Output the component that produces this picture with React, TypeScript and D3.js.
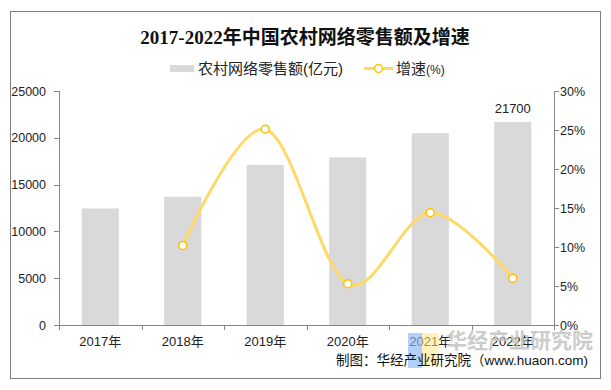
import React from "react";
import * as d3 from "d3";

const years = ["2017年", "2018年", "2019年", "2020年", "2021年", "2022年"];
const sales = [12449, 13700, 17100, 17900, 20500, 21700];
const growth: (number | null)[] = [null, 10.2, 25.1, 5.3, 14.4, 6.0];
const leftTicks = [0, 5000, 10000, 15000, 20000, 25000];
const rightTicks = [0, 5, 10, 15, 20, 25, 30];

const W = 611, H = 390;
const x0 = 59, x1 = 554, yBase = 325, yTop = 91;

export default function App() {
  const x = d3.scaleBand<string>().domain(years).range([x0, x1]).paddingInner(0.55).paddingOuter(0.275);
  const xb = d3.scaleBand<string>().domain(years).range([x0, x1]);
  const yL = d3.scaleLinear().domain([0, 25000]).range([yBase, yTop]);
  const yR = d3.scaleLinear().domain([0, 30]).range([yBase, yTop]);
  const pts = years
    .map((yr, i) => ({ yr, v: growth[i] }))
    .filter((d) => d.v !== null) as { yr: string; v: number }[];
  const line = d3
    .line<{ yr: string; v: number }>()
    .x((d) => (xb(d.yr) as number) + xb.bandwidth() / 2)
    .y((d) => yR(d.v))
    .curve(d3.curveCardinal.tension(0));
  const sans = "'Liberation Sans', Arial, 'Noto Sans CJK SC', sans-serif";
  const gold = "#FFD966";
  const goldDark = "#FFC000";
  const axisCol = "#868686";
  return (
    <svg width={W} height={H} style={{ position: "absolute", left: 0, top: 0 }} fontFamily={sans}>
      <rect x={0} y={0} width={W} height={H} fill="#fff" />
      <rect x={10.5} y={11.5} width={590} height={367} fill="none" stroke="#7f7f7f" strokeWidth={1} />
      <text x={305} y={44} textAnchor="middle" fontSize={19} fontWeight="bold" fill="#111"
        fontFamily="'Liberation Serif', 'DejaVu Serif', 'Noto Sans CJK SC', serif">
        2017-2022年中国农村网络零售额及增速
      </text>
      {/* legend */}
      <rect x={170} y={65} width={24} height={7} fill="#d9d9d9" />
      <text x={198} y={73.5} fontSize={15} fill="#222">农村网络零售额(亿元)</text>
      <line x1={364} x2={393} y1={68.5} y2={68.5} stroke={gold} strokeWidth={3} />
      <circle cx={378.5} cy={68.5} r={4} fill="#fff" stroke={goldDark} strokeWidth={1.5} />
      <text x={396} y={73.5} fontSize={15} fill="#222">增速<tspan fontSize={12}>(%)</tspan></text>
      {/* bars */}
      {years.map((yr, i) => (
        <rect key={yr} x={x(yr)} y={yL(sales[i])} width={x.bandwidth()} height={yBase - yL(sales[i])} fill="#d9d9d9" />
      ))}
      <text x={(x("2022年") as number) + x.bandwidth() / 2} y={yL(21700) - 9} textAnchor="middle" fontSize={13} fill="#222">21700</text>
      {/* axes */}
      <line x1={x0 + 0.5} x2={x0 + 0.5} y1={yTop} y2={yBase} stroke={axisCol} />
      <line x1={x1 + 0.5} x2={x1 + 0.5} y1={yTop} y2={yBase} stroke={axisCol} />
      <line x1={x0} x2={x1} y1={yBase + 0.5} y2={yBase + 0.5} stroke={axisCol} />
      {leftTicks.map((t) => (
        <g key={"l" + t}>
          <line x1={x0 - 5} x2={x0} y1={Math.round(yL(t)) + 0.5} y2={Math.round(yL(t)) + 0.5} stroke={axisCol} />
          <text x={46} y={yL(t) + 4.5} textAnchor="end" fontSize={12.5} fill="#222">{t}</text>
        </g>
      ))}
      {rightTicks.map((t) => (
        <g key={"r" + t}>
          <line x1={x1} x2={x1 + 5} y1={Math.round(yR(t)) + 0.5} y2={Math.round(yR(t)) + 0.5} stroke={axisCol} />
          <text x={560} y={yR(t) + 4.5} textAnchor="start" fontSize={12.5} fill="#222">{t}%</text>
        </g>
      ))}
      {years.map((yr, i) => (
        <g key={"x" + yr}>
          <line x1={Math.round((xb(yr) as number)) + 0.5} x2={Math.round((xb(yr) as number)) + 0.5} y1={yBase} y2={yBase + 5} stroke={axisCol} />
          <text x={(xb(yr) as number) + xb.bandwidth() / 2} y={346} textAnchor="middle" fontSize={13} fill="#222">{yr}</text>
        </g>
      ))}
      <line x1={x1 + 0.5} x2={x1 + 0.5} y1={yBase} y2={yBase + 5} stroke={axisCol} />
      {/* growth line */}
      <path d={line(pts) as string} fill="none" stroke={gold} strokeWidth={3} />
      {pts.map((d) => (
        <circle key={"c" + d.yr} cx={(xb(d.yr) as number) + xb.bandwidth() / 2} cy={yR(d.v)} r={4} fill="#fff" stroke={goldDark} strokeWidth={1.5} />
      ))}
      {/* watermark */}
      <rect x={408} y={333} width={14} height={35} fill="#8ab8f5" opacity={0.65} />
      <rect x={422} y={333} width={17} height={32} fill="#fde98a" opacity={0.55} />
      <text x={593} y={348} textAnchor="end" fontSize={21} fontWeight="bold" fill="#c4c4c4" opacity={0.85}
        fontFamily="'Noto Sans CJK SC', sans-serif">华经产业研究院</text>
      <text x={588} y={365} textAnchor="end" fontSize={13.5} fill="#111">制图：华经产业研究院（www.huaon.com)</text>
    </svg>
  );
}
